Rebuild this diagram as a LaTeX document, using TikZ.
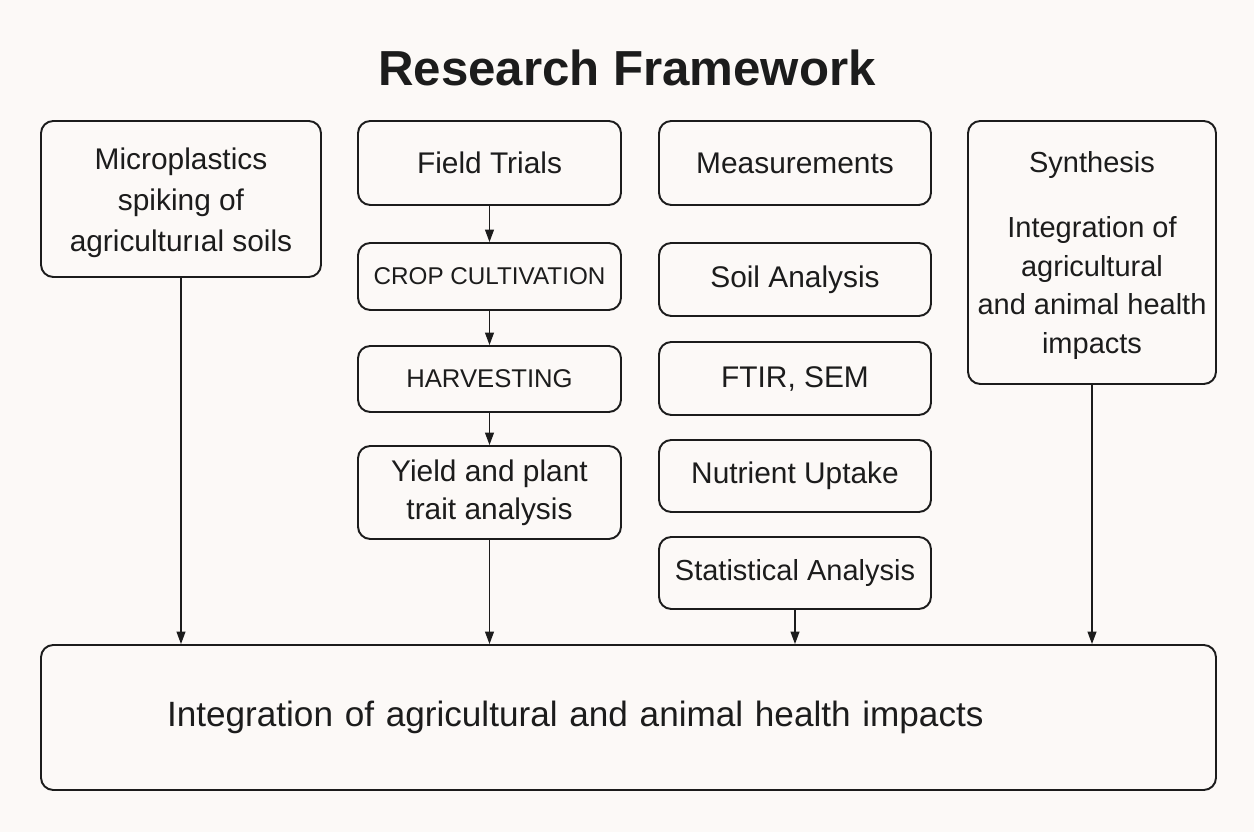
\documentclass[tikz,border=0pt]{standalone}
\usepackage{fontspec}
\setmainfont{Liberation Sans}
\usetikzlibrary{arrows.meta, positioning}

\definecolor{paper}{RGB}{252,249,247}
\definecolor{ink}{RGB}{28,28,28}

\begin{document}
\begin{tikzpicture}[
    >={Triangle[length=7pt,width=5pt]},
    box/.style={draw=ink, line width=1.1pt, rounded corners=7pt, text=ink, align=center, inner sep=2pt, font=\fontsize{17}{23}\selectfont},
    caps/.style={box, font=\fontsize{13.8}{18}\selectfont},
    link/.style={->, draw=ink, line width=0.8pt}
]

\fill[paper] (0,0) rectangle (25.08,-16.64);
\useasboundingbox (0,0) rectangle (25.08,-16.64);

\node (Title) at (12.54,-1.36) [text=ink, font=\fontsize{28}{32}\selectfont\bfseries] {Research Framework};

% left column
\node (Spiking) at (3.62,-3.98) [box, minimum width=5.6cm, minimum height=3.12cm, font=\fontsize{17}{23.5}\selectfont] {\strut Microplastics\\spiking of\\agriculturıal soils};

% field trials column
\node (Field) at (9.79,-3.26) [box, minimum width=5.26cm, minimum height=1.68cm] {Field Trials};
\node (Crop) at (9.79,-5.53) [caps, minimum width=5.26cm, minimum height=1.34cm] {CROP CULTIVATION};
\node (Harvest) at (9.79,-7.58) [caps, minimum width=5.26cm, minimum height=1.32cm, font=\fontsize{14.6}{18}\selectfont] {HARVESTING};
\node (Yield) at (9.79,-9.85) [box, minimum width=5.26cm, minimum height=1.86cm, font=\fontsize{17}{21.5}\selectfont] {Yield and plant\\trait analysis};

% measurements column
\node (Meas) at (15.9,-3.26) [box, minimum width=5.44cm, minimum height=1.68cm] {Measurements};
\node (Soil) at (15.9,-5.59) [box, minimum width=5.44cm, minimum height=1.46cm] {Soil Analysis};
\node (FTIR) at (15.9,-7.57) [box, minimum width=5.44cm, minimum height=1.46cm] {FTIR, SEM};
\node (Nutrient) at (15.9,-9.52) [box, minimum width=5.44cm, minimum height=1.44cm] {Nutrient Uptake};
\node (Stats) at (15.9,-11.46) [box, minimum width=5.44cm, minimum height=1.44cm, font=\fontsize{16.5}{21}\selectfont] {Statistical Analysis};

% synthesis column
\node (Synth) at (21.84,-5.05) [box, minimum width=4.96cm, minimum height=5.26cm, font=\fontsize{16.5}{22}\selectfont] {\strut Synthesis\\[15pt]Integration of\\agricultural\\and animal health\\impacts};

% bottom box
\node (Impacts) at (12.57,-14.35) [box, minimum height=2.9cm, inner xsep=2.52cm, text width=18.46cm, align=left, font=\fontsize{20}{24}\selectfont] {Integration of agricultural and animal health impacts};

\draw[link] (Field) -- (Crop);
\draw[link] (Crop) -- (Harvest);
\draw[link] (Harvest) -- (Yield);

\draw[link] (Spiking.south) -- (Spiking.south |- Impacts.north);
\draw[link] (Yield.south) -- (Yield.south |- Impacts.north);
\draw[link] (Stats.south) -- (Stats.south |- Impacts.north);
\draw[link] (Synth.south) -- (Synth.south |- Impacts.north);

\end{tikzpicture}
\end{document}
